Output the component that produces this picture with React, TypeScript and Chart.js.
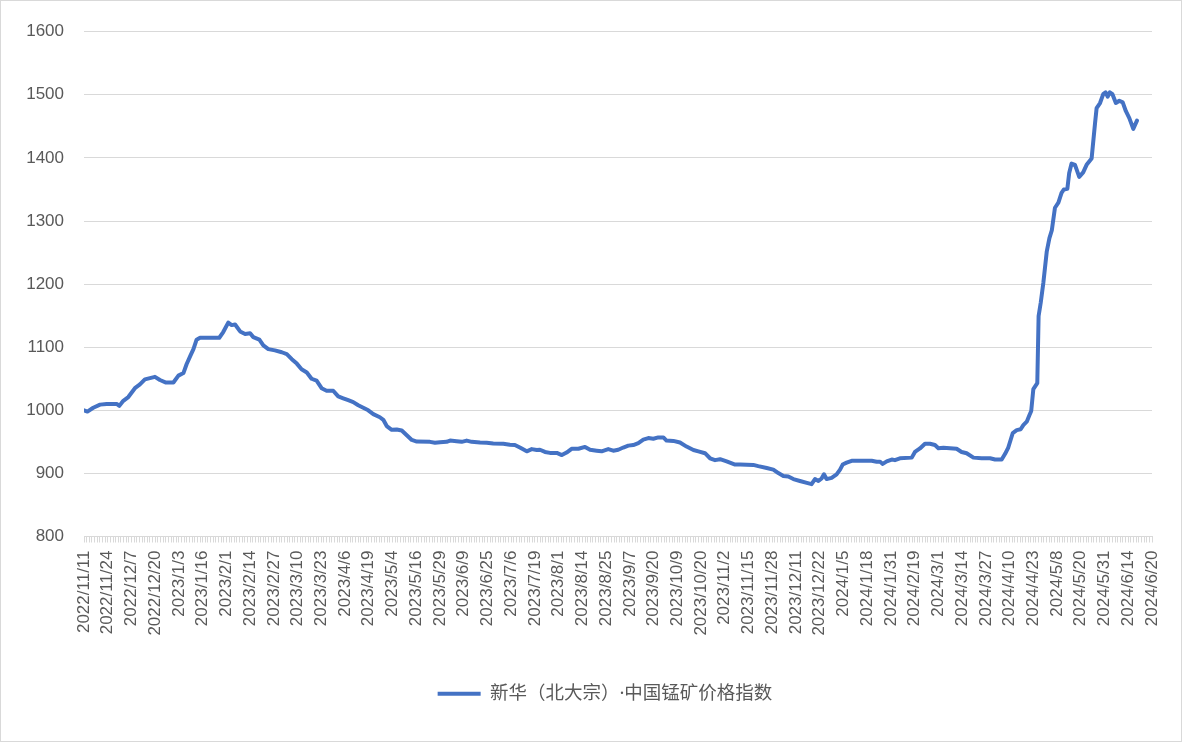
import React, { useEffect, useRef } from "react";
import Chart from "chart.js/auto";

// every 9th trading day carries a label on the category axis
const xLabels = [
  "2022/11/11", "2022/11/24", "2022/12/7", "2022/12/20", "2023/1/3",
  "2023/1/16", "2023/2/1", "2023/2/14", "2023/2/27", "2023/3/10",
  "2023/3/23", "2023/4/6", "2023/4/19", "2023/5/4", "2023/5/16",
  "2023/5/29", "2023/6/9", "2023/6/25", "2023/7/6", "2023/7/19",
  "2023/8/1", "2023/8/14", "2023/8/25", "2023/9/7", "2023/9/20",
  "2023/10/9", "2023/10/20", "2023/11/2", "2023/11/15", "2023/11/28",
  "2023/12/11", "2023/12/22", "2024/1/5", "2024/1/18", "2024/1/31",
  "2024/2/19", "2024/3/1", "2024/3/14", "2024/3/27", "2024/4/10",
  "2024/4/23", "2024/5/8", "2024/5/20", "2024/5/31", "2024/6/14",
  "2024/6/20",
];
const LABEL_STEP = 9;
const LAST_DAY = (xLabels.length - 1) * LABEL_STEP;

const yTicks = { min: 800, max: 1600, step: 100 };

const SERIES_NAME = "新华（北大宗）·中国锰矿价格指数";

// trading-day position of each read point
const dayIndex = [
  0, 1.3, 3.5, 6.1, 8.6, 12.4, 13.4, 14.9, 16.8, 19.3, 21.2, 23.1, 25, 26.9,
  28.8, 31.1, 33.9, 35.8, 37.7, 38.9, 40.4, 41.5, 42.7, 44, 51.3, 52.8, 54.7,
  56, 57.3, 59.2, 61.1, 63, 64.2, 66.5, 68, 69.9, 72.4, 75, 76.9, 78.8, 80.7,
  82.5, 84.5, 86.3, 88.2, 90.1, 92, 94.5, 96.4, 98.3, 100.2, 102.1, 104, 105.9,
  107.8, 109.7, 112.2,
  113.5, 114.8, 116.7, 118.6, 120.5, 122.4, 124.3, 126.2, 131.2, 133.1, 135,
  137.5, 138.8, 141.3, 143.2, 145.1, 147, 150.2, 152.7, 155.2, 159, 161.5,
  163.4, 165.3, 167.9, 169.8, 171.7, 172.9, 174.8, 176.7, 179.3, 181.2, 183,
  184.9, 187.5, 190, 191.9, 194.4, 196.3, 198.8, 200.7, 202.6, 204.5, 206.4,
  208.3, 210.2, 212.1, 214, 215.9, 217.8, 219.7, 220.9, 223.5, 226, 228.5,
  231.1, 233, 235.5, 237.4, 239.3, 241.2, 243.7, 246.9, 248.8, 253.8, 255.7,
  258.9, 261.4, 263.3, 265.2, 267.1, 269, 271.5, 274.1, 275.9, 277.2, 278.5,
  279.7, 280.6, 281.6, 283.5, 285.4, 286.7, 287.7, 289.2, 291.1, 298.7, 300.6,
  301.9, 302.9, 304.4, 306.3, 307.5, 309.4, 313.9, 315.1, 317, 318.9, 320.8,
  322.7, 324, 325.9, 328.4, 330.9, 332.8, 334.7, 337.3, 340.4, 343.6, 345.5,
  348,
  349.3, 350.5, 352.2, 353.7, 355.2, 356.2, 357.5, 358.5, 359.2, 360, 361.5,
  362, 362.8, 363.8, 365.1, 366.1, 367, 368.2, 369.5, 370.7, 371.6, 372.9,
  373.6, 374.5, 375.8, 377.4, 378.9, 380.2, 382.1, 383.4, 384, 385.3, 386.5,
  387.4, 388.2, 389, 390, 391.3, 392.6, 393.9, 395.1, 396.4, 397.9, 399.3,
];

const priceIndex = [
  1000, 998, 1004, 1009, 1010, 1010, 1007, 1015, 1021, 1035, 1041, 1049, 1051,
  1053, 1048, 1044, 1044, 1055, 1059, 1073, 1087, 1097, 1112, 1115, 1115, 1124,
  1139, 1135, 1136, 1125, 1121, 1122, 1116, 1112, 1103, 1097, 1095, 1092, 1089,
  1081, 1074, 1065, 1060, 1050, 1047, 1035, 1031, 1031, 1022, 1019, 1016, 1013,
  1008, 1004, 1000, 994, 989,
  985, 975, 969, 969.5, 968, 960.5, 953, 950.5, 950, 948.5, 949.5, 950, 952,
  951, 950, 952, 950, 949, 948.5, 947.5, 947, 945.5, 945, 941, 935, 938.5, 937,
  937.5, 934, 932.5, 932.5, 929, 933, 939, 939, 942, 937.5, 936, 935, 938.5,
  936, 937.5, 941, 944, 945, 948, 953.5, 956, 955, 957, 957, 952, 951.5, 949,
  942.5, 937, 935, 932, 924, 921, 922.5, 919, 914, 914, 913.5, 911.5,
  908.5, 906, 900.5, 896, 895, 891, 888, 885, 883, 891, 888, 892, 898.5, 891,
  893, 898.5, 906, 914, 917, 920, 920, 918.5, 918.5, 915, 919, 922, 921, 924,
  925, 934, 939.5, 947, 947, 945, 940, 940.5, 940, 939, 934, 932, 925, 924,
  924, 922, 922,
  931, 941, 964, 968.6, 970, 976.5, 982, 992, 999, 1033.5, 1043, 1149.5,
  1170.5, 1202, 1252, 1273, 1285, 1321, 1329, 1344.5, 1350, 1351, 1376, 1391,
  1389, 1370, 1377, 1389, 1399, 1455, 1479, 1487, 1501, 1504, 1497, 1504, 1501,
  1487, 1490.5, 1488, 1474, 1463, 1446, 1459,
];

const LINE_COLOR = "#4472C4";
const TEXT_COLOR = "#595959";
const GRID_COLOR = "#d9d9d9";
const TICK_FONT = { family: "'Liberation Sans', Arial, sans-serif", size: 17 };

// the legend sits a little left of the plot centre, as in the original
const legendNudge = {
  id: "legendNudge",
  afterLayout(chart: any) {
    const legend = chart.legend;
    if (!legend) return;
    legend.left -= 13;
    legend.right -= 13;
  },
};

const App: React.FC = () => {
  const chartRef = useRef<HTMLCanvasElement | null>(null);
  const chartInstance = useRef<Chart | null>(null);

  useEffect(() => {
    document.body.style.margin = "0";
    if (!chartRef.current) return;
    if (chartInstance.current) chartInstance.current.destroy();

    const ctx = chartRef.current.getContext("2d");
    if (!ctx) return;

    chartInstance.current = new Chart(ctx, {
      type: "line",
      data: {
        datasets: [
          {
            label: SERIES_NAME,
            data: dayIndex.map((x, i) => ({ x, y: priceIndex[i] })),
            borderColor: LINE_COLOR,
            backgroundColor: LINE_COLOR,
            borderWidth: 4,
            pointRadius: 0,
            tension: 0,
            borderJoinStyle: "round",
            borderCapStyle: "round",
          },
        ],
      },
      options: {
        animation: false,
        responsive: true,
        maintainAspectRatio: false,
        layout: { padding: { top: 30.7, left: 0, right: 29, bottom: 28 } },
        plugins: {
          tooltip: { enabled: false },
          legend: {
            position: "bottom",
            fullSize: false,
            labels: {
              usePointStyle: true,
              pointStyle: "line",
              pointStyleWidth: 43,
              color: TEXT_COLOR,
              padding: 10,
              font: {
                family: "'Noto Sans', 'Noto Sans CJK SC', sans-serif",
                size: 18.5,
              },
            },
          },
        },
        scales: {
          x: {
            type: "linear",
            min: 0,
            max: LAST_DAY,
            afterBuildTicks: (axis: any) => {
              // a small tick mark for every trading day
              axis.ticks = Array.from({ length: LAST_DAY + 1 }, (_, i) => ({ value: i }));
            },
            afterFit: (axis: any) => {
              axis.height = 138;
            },
            grid: { drawOnChartArea: false, color: GRID_COLOR, tickLength: 6 },
            border: { color: GRID_COLOR },
            ticks: {
              autoSkip: false,
              minRotation: 90,
              maxRotation: 90,
              padding: 8,
              color: TEXT_COLOR,
              font: TICK_FONT,
              callback: (value: any) =>
                value % LABEL_STEP === 0 ? xLabels[value / LABEL_STEP] : "",
            },
          },
          y: {
            min: yTicks.min,
            max: yTicks.max,
            afterFit: (axis: any) => {
              axis.width = 83;
            },
            grid: { color: GRID_COLOR, drawTicks: false },
            border: { display: false },
            ticks: {
              stepSize: yTicks.step,
              padding: 20,
              color: TEXT_COLOR,
              font: TICK_FONT,
              callback: (value: any) => String(value),
            },
          },
        },
      },
      plugins: [legendNudge],
    });

    return () => {
      if (chartInstance.current) {
        chartInstance.current.destroy();
        chartInstance.current = null;
      }
    };
  }, []);

  return (
    <div
      style={{
        width: 1182,
        height: 742,
        boxSizing: "border-box",
        border: `1px solid ${GRID_COLOR}`,
        background: "#fff",
      }}
    >
      <div style={{ position: "relative", width: 1180, height: 740 }}>
        <canvas ref={chartRef} />
      </div>
    </div>
  );
};

export default App;
